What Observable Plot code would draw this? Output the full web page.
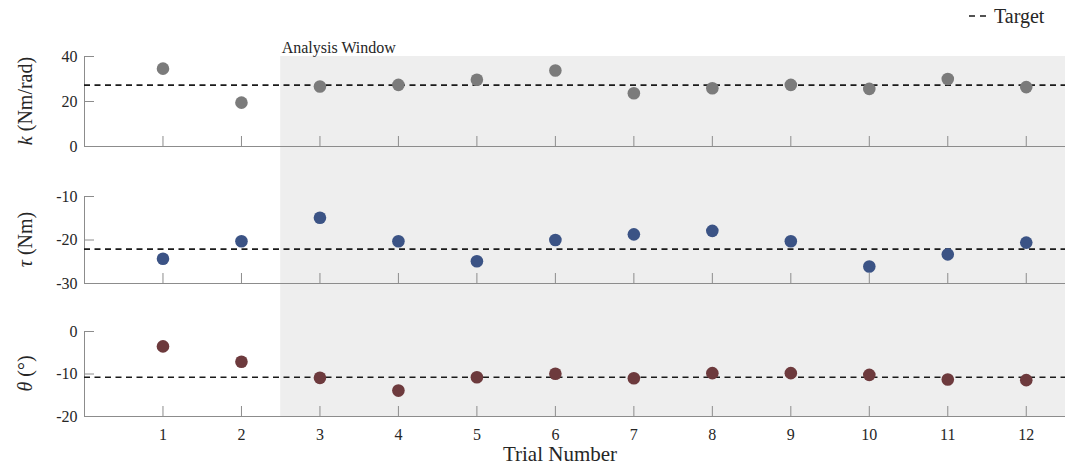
<!DOCTYPE html>
<html>
<head>
<meta charset="utf-8">
<script src="https://cdn.jsdelivr.net/npm/d3@7"></script>
<script src="https://cdn.jsdelivr.net/npm/@observablehq/plot@0.6"></script>
<style>
  html, body { margin: 0; padding: 0; background: #fff; }
  #chart { width: 1072px; height: 470px; position: relative; }
  #chart svg { display: block; }
</style>
</head>
<body>
<div id="chart"></div>
<script>
// ---- data ----
const trials = [1, 2, 3, 4, 5, 6, 7, 8, 9, 10, 11, 12];
const kValues = [34.6, 19.5, 26.7, 27.4, 29.7, 33.8, 23.7, 25.9, 27.4, 25.6, 30.0, 26.4];
const tauValues = [-24.3, -20.3, -14.9, -20.3, -24.9, -20.0, -18.7, -17.9, -20.3, -26.1, -23.3, -20.6];
const thetaValues = [-3.5, -7.1, -10.9, -13.9, -10.75, -9.95, -11.0, -9.8, -9.8, -10.2, -11.3, -11.45];
const kTarget = 27.3;
const tauTarget = -22.1;
const thetaTarget = -10.75;
const kTicks = [0, 20, 40];
const tauTicks = [-30, -20, -10];
const thetaTicks = [-20, -10, 0];
const windowStart = 2.5;
const windowEnd = 12.5;
const windowLabel = "Analysis Window";
const xLabel = "Trial Number";
const legendLabel = "Target";

// ---- styling ----
const FONT = "'Liberation Serif', 'DejaVu Serif', serif";
const AXIS = "#8c8c8c";
const BAND = "#eeeeee";
const TEXT = "#262626";
const W = 1072, ML = 84, MR = 7;
const plotW = W - ML - MR;

function panel({values, target, domain, ticks, color, height, mt, mb, bandLo, bandHi, symbol, unit, showX, extra = []}) {
  const plotH = height - mt - mb;
  const data = trials.map((t, i) => ({trial: t, value: values[i]}));
  const marks = [
    Plot.rect([0], {x1: () => windowStart, x2: () => windowEnd, y1: () => bandLo, y2: () => bandHi, fill: BAND}),
    Plot.ruleX([0], {stroke: AXIS, strokeWidth: 1}),
    Plot.ruleY([domain[0]], {stroke: AXIS, strokeWidth: 1}),
    Plot.tickX(trials, {x: d => d, stroke: AXIS, strokeWidth: 1, insetTop: plotH - 10}),
    Plot.tickY(ticks, {y: d => d, stroke: AXIS, strokeWidth: 1, insetRight: plotW - 10}),
    Plot.axisY(ticks, {tickSize: 0, tickPadding: 7, fontSize: 16, fontFamily: FONT, label: null, fill: TEXT, tickFormat: d => String(d)}),
    Plot.ruleY([target], {stroke: "#1a1a1a", strokeWidth: 1.6, strokeDasharray: "6,4.5"}),
    Plot.dot(data, {x: "trial", y: "value", r: 6.3, fill: color, stroke: null}),
    ...extra
  ];
  if (showX) {
    marks.push(Plot.axisX(trials, {tickSize: 0, tickPadding: 12, fontSize: 16, fontFamily: FONT, label: null, fill: TEXT, tickFormat: d => String(d)}));
    marks.push(Plot.text([xLabel], {text: d => d, frameAnchor: "bottom", dx: -15, dy: 44, fontSize: 21, fontFamily: FONT, fill: TEXT}));
  } else {
    marks.push(Plot.axisX({ticks: [], label: null}));
  }
  const svg = Plot.plot({
    width: W,
    height,
    marginLeft: ML,
    marginRight: MR,
    marginTop: mt,
    marginBottom: mb,
    style: {background: "transparent", fontFamily: FONT, overflow: "hidden"},
    x: {domain: [0, 12.5]},
    y: {domain},
    marks
  });
  const g = d3.select(svg);
  const t = g.append("text")
    .attr("transform", `translate(25,${mt + plotH / 2}) rotate(-90)`)
    .attr("text-anchor", "middle")
    .attr("dominant-baseline", "central")
    .attr("font-family", FONT)
    .attr("font-size", 20)
    .attr("fill", TEXT);
  t.append("tspan").attr("font-style", "italic").text(symbol);
  t.append("tspan").text(" " + unit);
  return svg;
}

const chart = document.getElementById("chart");

const p1 = panel({
  values: kValues, target: kTarget, domain: [0, 40], ticks: kTicks, color: "#7b7b7b",
  height: 170, mt: 56, mb: 24, bandLo: -30, bandHi: 40, symbol: "k", unit: "(Nm/rad)", showX: false,
  extra: [Plot.text([windowLabel], {x: () => windowStart, y: () => 40, text: d => d, textAnchor: "start", dx: 1, dy: -9, fontSize: 16, fontFamily: FONT, fill: TEXT})]
});
// legend
const lg = d3.select(p1);
lg.append("line").attr("x1", 969).attr("x2", 986).attr("y1", 16).attr("y2", 16)
  .attr("stroke", "#1a1a1a").attr("stroke-width", 1.5).attr("stroke-dasharray", "6,5");
lg.append("text").attr("x", 994).attr("y", 23).attr("text-anchor", "start")
  .attr("font-family", FONT).attr("font-size", 20)
  .attr("fill", TEXT).text(legendLabel);
chart.appendChild(p1);

const p2 = panel({
  values: tauValues, target: tauTarget, domain: [-30, -10], ticks: tauTicks, color: "#3b5385",
  height: 135, mt: 26, mb: 22, bandLo: -60, bandHi: 10, symbol: "τ", unit: "(Nm)", showX: false
});
chart.appendChild(p2);

const p3 = panel({
  values: thetaValues, target: thetaTarget, domain: [-20, 0], ticks: thetaTicks, color: "#6d3a3d",
  height: 165, mt: 26, mb: 54, bandLo: -20, bandHi: 30, symbol: "θ", unit: "(°)", showX: true
});
chart.appendChild(p3);
</script>
</body>
</html>
